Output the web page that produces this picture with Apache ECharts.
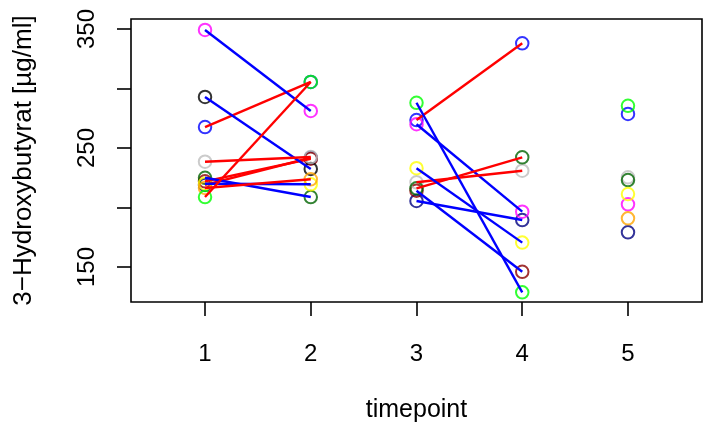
<!DOCTYPE html>
<html><head><meta charset="utf-8">
<script src="https://cdn.jsdelivr.net/npm/echarts@6/dist/echarts.min.js"></script>
<style>html,body{margin:0;padding:0;background:#fff}#c{width:703px;height:430px}</style>
</head><body><div id="c"></div>
<script>
// subjects (colour of each subject's circles), drawing order
const subjectColors = ["#000080","#8B0000","#0000FF","#000000","#FF00FF","#BEBEBE","#006400","#FFFF00","#FFA500","#00FF00"];
// values per timepoint (null = not measured)
const t1 = [219.0, 222.0, 267.6, 292.9, 349.2, 238.5, 225.0, 220.0, 216.4, 208.8];
const t2 = [241.8, 241.0, 305.5, 232.4, 281.1, 242.4, 208.8, 219.5, 223.7, 305.5];
const t3 = [205.5, 214.1, 273.5, null, 270.0, 221.2, 216.1, 233.0, null, 288.0];
const t4 = [189.5, 146.0, 338.0, null, 196.5, 230.9, 242.2, 170.5, null, 128.7];
const t5 = [179.2, null, 278.6, null, 202.7, 225.4, 223.1, 211.3, 190.9, 285.5];
const timepoints = [1, 2, 3, 4, 5];
const xTicks = [1, 2, 3, 4, 5];
const yTicks = [150, 200, 250, 300, 350];
const yLabels = [150, 250, 350];
const pairs = [[0, 1], [2, 3]]; // connected timepoint pairs

const all = [t1, t2, t3, t4, t5];
const FONT = "Liberation Sans";
const series = [];
// points
const pts = [];
for (let s = 0; s < subjectColors.length; s++) {
  for (let t = 0; t < all.length; t++) {
    const v = all[t][s];
    if (v == null) continue;
    pts.push({ value: [timepoints[t], v], itemStyle: { borderColor: subjectColors[s], color: "rgba(0,0,0,0)" } });
  }
}
series.push({ type: "scatter", symbol: "circle", symbolSize: 12.5, data: pts, z: 2,
  itemStyle: { borderWidth: 2 }, silent: true, animation: false });
// segments
for (const [a, b] of pairs) {
  for (let s = 0; s < subjectColors.length; s++) {
    const va = all[a][s], vb = all[b][s];
    if (va == null || vb == null) continue;
    series.push({ type: "line", data: [[timepoints[a], va], [timepoints[b], vb]], showSymbol: false, z: 3,
      lineStyle: { color: vb > va ? "#FF0000" : "#0000FF", width: 2.4 }, silent: true, animation: false });
  }
}

const chart = echarts.init(document.getElementById("c"), null, { renderer: "canvas" });
chart.setOption({
  animation: false,
  grid: { left: 131, right: 1, top: 19, bottom: 128, show: true, borderColor: "#000", borderWidth: 1.6, containLabel: false },
  xAxis: {
    type: "value", min: 0.3, max: 5.7,
    name: "timepoint", nameLocation: "middle", nameGap: 96,
    nameTextStyle: { fontFamily: FONT, fontSize: 25, color: "#000" },
    axisLine: { show: false },
    splitLine: { show: false },
    axisTick: { show: true, length: 14, customValues: xTicks, lineStyle: { color: "#000", width: 1.6 } },
    axisLabel: { show: true, customValues: xTicks, margin: 40, fontFamily: FONT, fontSize: 24, color: "#000",
      textStyle: { fontSize: 24 } }
  },
  yAxis: {
    type: "value", min: 120.6, max: 358.4,
    name: "3\u2212Hydroxybutyrat [\u00b5g/ml]", nameLocation: "middle", nameGap: 94, nameRotate: 90,
    nameTextStyle: { fontFamily: FONT, fontSize: 26, color: "#000" },
    axisLine: { show: false },
    splitLine: { show: false },
    axisTick: { show: true, length: 14, customValues: yTicks, lineStyle: { color: "#000", width: 1.6 } },
    axisLabel: { show: true, customValues: yLabels, rotate: 90, margin: 32, fontFamily: FONT, fontSize: 24, color: "#000" }
  },
  series: series
});
</script></body></html>
